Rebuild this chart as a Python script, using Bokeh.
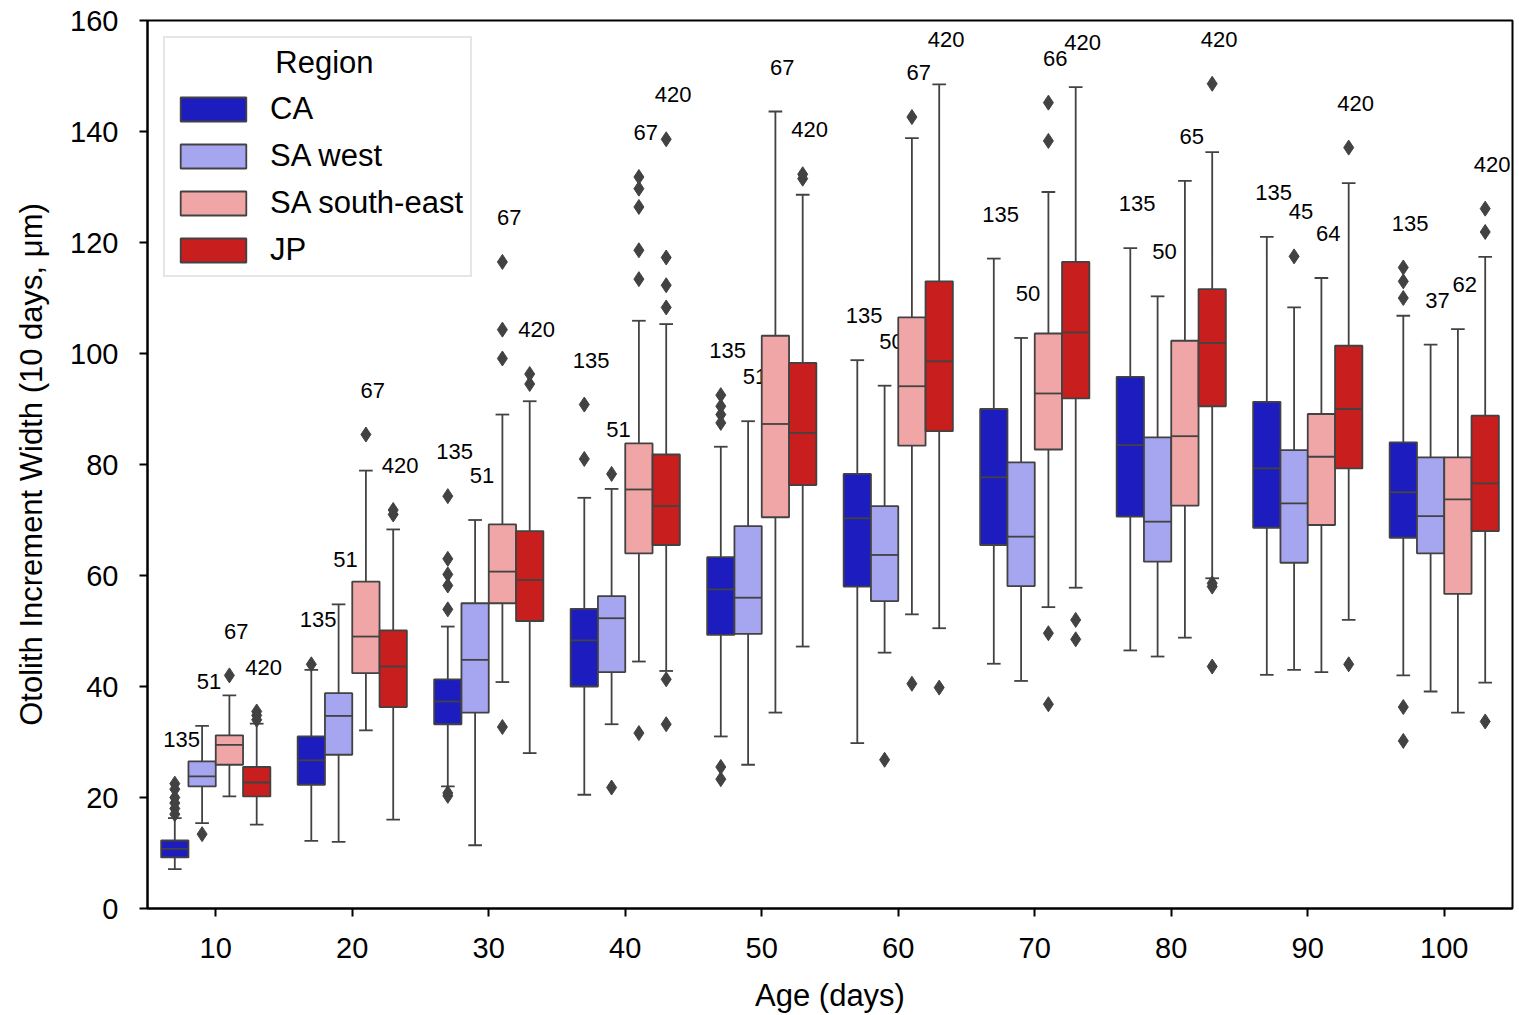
from bokeh.plotting import figure
from bokeh.models import ColumnDataSource, FactorRange, Legend, LegendItem, FixedTicker
from bokeh.transform import dodge
from bokeh.embed import file_html
from bokeh.resources import INLINE
from bokeh.core.properties import value

ages = ["10", "20", "30", "40", "50", "60", "70", "80", "90", "100"]
regions = ["CA", "SA west", "SA south-east", "JP"]
colors = ["#1c1cbf", "#a6a6f0", "#f0a6a6", "#c81e1e"]

# CA
ca_q1 = [9.2, 22.3, 33.2, 40.0, 49.3, 58.0, 65.5, 70.6, 68.6, 66.8]
ca_med = [10.75, 26.7, 37.3, 48.3, 57.5, 70.3, 77.7, 83.5, 79.3, 75.0]
ca_q3 = [12.25, 31.0, 41.3, 54.0, 63.3, 78.3, 90.0, 95.8, 91.3, 84.0]
ca_lo = [7.1, 12.2, 22.0, 20.5, 31.0, 29.8, 44.1, 46.5, 42.1, 42.0]
ca_hi = [16.3, 43.0, 50.8, 74.0, 83.2, 98.8, 117.1, 119.0, 121.0, 106.8]
ca_out = [[17.0, 18.0, 19.0, 20.0, 21.5, 22.5], [44.0], [53.9, 58.2, 60.2, 63.0, 74.3, 20.8, 20.3],
          [81.0, 90.8], [87.5, 89.0, 90.5, 92.5, 25.5, 23.3], [], [], [], [],
          [110.0, 113.0, 115.5, 36.3, 30.2]]
ca_n = [135, 135, 135, 135, 135, 135, 135, 135, 135, 135]

# SA west
sw_q1 = [22.0, 27.7, 35.3, 42.6, 49.5, 55.4, 58.1, 62.5, 62.3, 64.0]
sw_med = [23.8, 34.7, 44.8, 52.3, 56.0, 63.7, 67.0, 69.7, 73.0, 70.7]
sw_q3 = [26.5, 38.8, 55.0, 56.3, 68.9, 72.5, 80.4, 84.9, 82.6, 81.3]
sw_lo = [15.4, 12.0, 11.4, 33.2, 25.9, 46.1, 41.0, 45.4, 43.0, 39.1]
sw_hi = [32.9, 54.8, 70.0, 75.6, 87.8, 94.2, 102.8, 110.3, 108.3, 101.6]
sw_out = [[13.4], [], [], [78.3, 21.8], [], [26.8], [], [], [117.5], []]
sw_n = [51, 51, 51, 51, 51, 50, 50, 50, 45, 37]

# SA south-east
se_q1 = [25.9, 42.4, 55.0, 64.0, 70.5, 83.4, 82.7, 72.6, 69.1, 56.7]
se_med = [29.5, 49.0, 60.7, 75.5, 87.3, 94.1, 92.8, 85.1, 81.4, 73.7]
se_q3 = [31.2, 58.9, 69.2, 83.8, 103.2, 106.5, 103.6, 102.3, 89.1, 81.3]
se_lo = [20.2, 32.1, 40.8, 44.5, 35.3, 53.0, 54.3, 48.8, 42.6, 35.3]
se_hi = [38.4, 78.9, 89.0, 105.9, 143.6, 138.8, 129.1, 131.1, 113.6, 104.4]
se_out = [[42.0], [85.4], [99.1, 104.3, 116.5, 32.7], [113.4, 118.6, 126.4, 129.7, 131.8, 31.6], [],
          [142.6, 40.5], [138.3, 145.2, 49.6, 36.8], [], [], []]
se_n = [67, 67, 67, 67, 67, 67, 66, 65, 64, 62]

# JP
jp_q1 = [20.2, 36.3, 51.8, 65.5, 76.3, 86.0, 91.9, 90.5, 79.3, 68.0]
jp_med = [22.7, 43.6, 59.2, 72.5, 85.7, 98.6, 103.8, 101.9, 90.0, 76.6]
jp_q3 = [25.5, 50.1, 68.0, 81.8, 98.3, 113.0, 116.5, 111.6, 101.4, 88.8]
jp_lo = [15.1, 16.0, 28.0, 42.8, 47.2, 50.5, 57.8, 59.5, 52.0, 40.7]
jp_hi = [33.3, 68.3, 91.4, 105.3, 128.6, 148.5, 148.0, 136.3, 130.7, 117.4]
jp_out = [[34.0, 34.8, 35.5], [71.0, 71.8], [94.5, 96.3], [108.3, 112.3, 117.3, 138.6, 41.3, 33.2],
          [131.5, 132.3], [39.8], [52.0, 48.5], [148.6, 58.6, 58.0, 43.6], [137.1, 44.0],
          [121.9, 126.1, 33.7]]
jp_n = [420, 420, 420, 420, 420, 420, 420, 420, 420, 420]

stats = [
    (ca_q1, ca_med, ca_q3, ca_lo, ca_hi, ca_out, ca_n),
    (sw_q1, sw_med, sw_q3, sw_lo, sw_hi, sw_out, sw_n),
    (se_q1, se_med, se_q3, se_lo, se_hi, se_out, se_n),
    (jp_q1, jp_med, jp_q3, jp_lo, jp_hi, jp_out, jp_n),
]
offsets = [-0.3, -0.1, 0.1, 0.3]
LINE = "#424242"
FONT = "Liberation Sans"

p = figure(x_range=FactorRange(factors=ages), y_range=(0, 160),
           width=1519, height=1015, output_backend="svg", toolbar_location=None,
           min_border_left=147, min_border_right=7, min_border_top=20, min_border_bottom=107)

box_renderers = []
for (q1, med, q3, lo, hi, out, n), off, col in zip(stats, offsets, colors):
    lab_y = [max([h] + o) + 8 for h, o in zip(hi, out)]
    src = ColumnDataSource(dict(age=ages, q1=q1, med=med, q3=q3, lo=lo, hi=hi,
                                ly=lab_y, n=[str(v) for v in n]))
    xc = dodge("age", off, range=p.x_range)
    xl = dodge("age", off - 0.05, range=p.x_range)
    xr = dodge("age", off + 0.05, range=p.x_range)
    bl = dodge("age", off - 0.1, range=p.x_range)
    br = dodge("age", off + 0.1, range=p.x_range)
    # whiskers
    p.segment(x0=xc, y0="q3", x1=xc, y1="hi", source=src, line_color=LINE, line_width=1.8)
    p.segment(x0=xc, y0="q1", x1=xc, y1="lo", source=src, line_color=LINE, line_width=1.8)
    p.segment(x0=xl, y0="hi", x1=xr, y1="hi", source=src, line_color=LINE, line_width=1.8)
    p.segment(x0=xl, y0="lo", x1=xr, y1="lo", source=src, line_color=LINE, line_width=1.8)
    # box
    r = p.vbar(x=xc, top="q3", bottom="q1", width=0.2, source=src,
               fill_color=col, line_color=LINE, line_width=1.8)
    box_renderers.append(r)
    # median
    p.segment(x0=bl, y0="med", x1=br, y1="med", source=src, line_color=LINE, line_width=1.8)
    # outliers
    ox, oy = [], []
    for a, o in zip(ages, out):
        for v in o:
            ox.append(a)
            oy.append(v)
    osrc = ColumnDataSource(dict(age=ox, y=oy))
    p.scatter(x=dodge("age", off, range=p.x_range), y="y", source=osrc, marker="diamond",
              size=15, fill_color=LINE, line_color=LINE)
    # sample counts
    p.text(x=xr, y="ly", text="n", source=src, text_font=value(FONT), text_font_size="22px",
           text_align="center", text_baseline="middle", text_color="black")

p.xgrid.grid_line_color = None
p.ygrid.grid_line_color = None
p.outline_line_color = "black"
p.outline_line_width = 2

p.yaxis.ticker = FixedTicker(ticks=[0, 20, 40, 60, 80, 100, 120, 140, 160])
for ax in (p.xaxis[0], p.yaxis[0]):
    ax.axis_line_color = "black"
    ax.axis_line_width = 2
    ax.major_tick_line_color = "black"
    ax.major_tick_line_width = 2
    ax.major_tick_out = 8
    ax.major_tick_in = 0
    ax.minor_tick_line_color = None
    ax.major_label_text_font = FONT
    ax.major_label_text_font_size = "29px"
    ax.major_label_text_color = "black"
    ax.axis_label_text_font = FONT
    ax.axis_label_text_font_size = "31px"
    ax.axis_label_text_font_style = "normal"
    ax.axis_label_text_color = "black"

p.xaxis.axis_label = "Age (days)"
p.yaxis.axis_label = "Otolith Increment Width (10 days, \u03bcm)"
p.xaxis.major_label_standoff = 21
p.xaxis.axis_label_standoff = 17
p.yaxis.major_label_standoff = 21
p.yaxis.axis_label_standoff = 18

legend = Legend(items=[LegendItem(label=reg, renderers=[r]) for reg, r in zip(regions, box_renderers)],
                location="top_left", title="\u00a0" * 12 + "Region")
legend.title_text_font = FONT
legend.title_text_font_size = "31px"
legend.title_text_font_style = "normal"
legend.title_text_color = "black"
legend.label_text_font = FONT
legend.label_text_font_size = "31px"
legend.label_text_color = "black"
legend.glyph_width = 82
legend.glyph_height = 30
legend.label_height = 30
legend.label_standoff = 16
legend.spacing = 11
legend.padding = 7
legend.margin = 16
legend.title_standoff = 10
legend.border_line_color = "#cccccc"
legend.border_line_width = 2
legend.background_fill_alpha = 0.85
p.add_layout(legend)

open("out.html", "w").write(file_html(p, INLINE))
